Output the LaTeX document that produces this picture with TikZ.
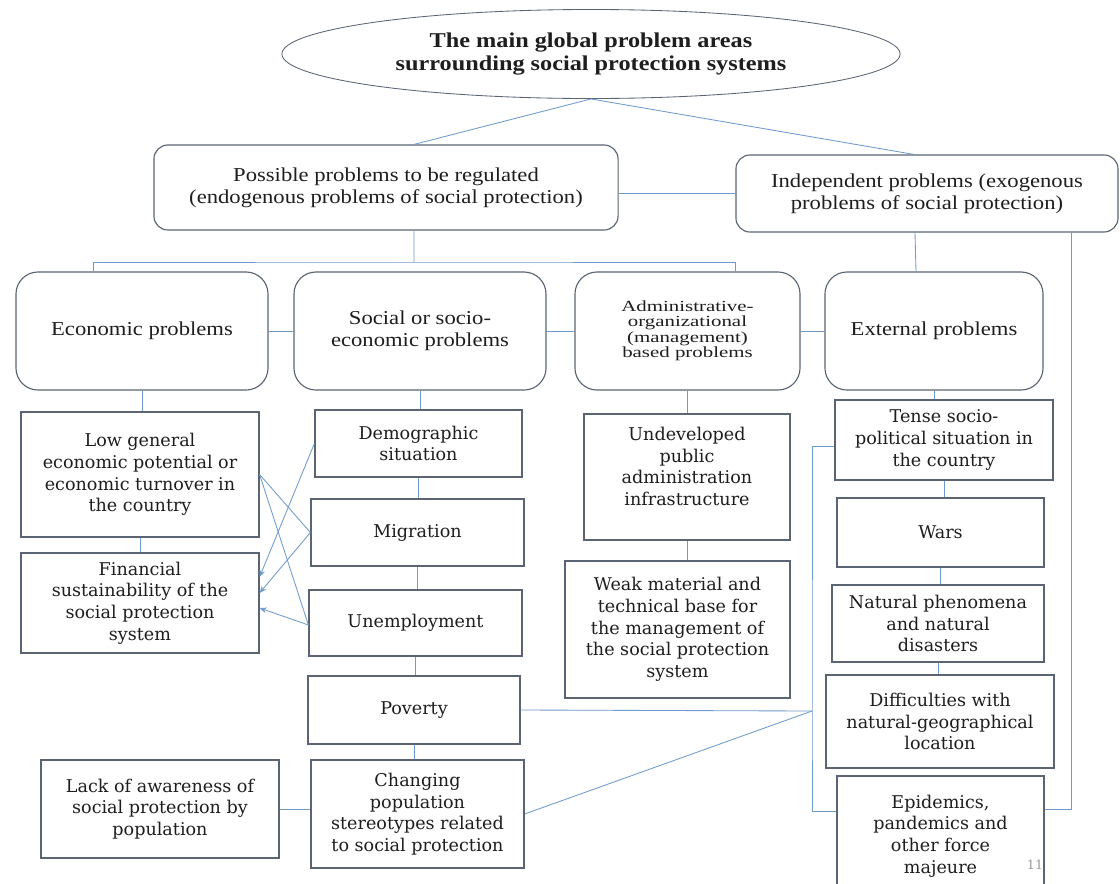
\documentclass[tikz,border=0pt]{standalone}
\usepackage{fontspec}
\setmainfont{Liberation Serif}
\newfontfamily\headfont[FakeStretch=1.15]{Liberation Serif}
\newfontfamily\narrowhead[FakeStretch=1.35]{Liberation Serif}
\newfontfamily\itemfont{DejaVu Serif}
\usepackage{xcolor}
\usetikzlibrary{positioning, arrows.meta, shapes.geometric}

\definecolor{boxline}{RGB}{90,100,115}
\definecolor{linkline}{RGB}{110,155,205}
\definecolor{inkgray}{RGB}{30,30,30}

\begin{document}
\begin{tikzpicture}[
    x=0.025cm, y=-0.025cm,
    title/.style={ellipse, draw=boxline, line width=0.6pt, minimum width=15.45cm, minimum height=2.225cm, inner sep=0pt, align=center, text=inkgray, font=\headfont\bfseries\fontsize{15}{16.5}\selectfont},
    group/.style={rectangle, draw=boxline, line width=0.8pt, rounded corners=0.35cm, inner sep=0pt, align=center, text=inkgray, font=\headfont\fontsize{14}{15.4}\selectfont},
    area/.style={rectangle, draw=boxline, line width=0.8pt, rounded corners=0.55cm, minimum height=2.95cm, inner sep=0pt, align=center, text=inkgray, font=\headfont\fontsize{14}{15.4}\selectfont},
    issue/.style={rectangle, draw=boxline, line width=0.8pt, inner sep=0pt, align=center, text=inkgray, font=\itemfont\fontsize{12.5}{15.4}\selectfont},
    link/.style={draw=linkline, line width=0.6pt},
    feed/.style={link, -{Stealth[length=5pt, width=4pt]}}
]
\clip (0,0) rectangle (1120,883);
\fill[white] (0,0) rectangle (1120,883);

% Nodes
\node[title] (top) at (591,54) {The main global problem areas\\surrounding social protection systems};
\node[group, minimum width=11.6cm, minimum height=2.125cm] (poss) at (386,187.5) {Possible problems to be regulated\\(endogenous problems of social protection)};
\node[group, minimum width=9.55cm, minimum height=1.925cm] (indep) at (927,193.5) {Independent problems (exogenous\\problems of social protection)};

\node[area, minimum width=6.3cm] (econ) at (142,331) {Economic problems};
\node[area, minimum width=6.3cm] (soc) at (420,331) {Social or socio-\\economic problems};
\node[area, minimum width=5.625cm, font=\narrowhead\fontsize{11}{11}\selectfont] (admin) at (687.5,331) {Administrative-\\organizational\\(management)\\based problems};
\node[area, minimum width=5.45cm] (ext) at (934,331) {External problems};

\node[issue, minimum width=5.95cm, minimum height=3.125cm] (low) at (140,474.5) {Low general\\economic potential or\\economic turnover in\\the country};
\node[issue, minimum width=5.95cm, minimum height=2.5cm] (fin) at (140,603) {Financial\\sustainability of the\\social protection\\system};
\node[issue, minimum width=5.95cm, minimum height=2.45cm] (lack) at (160,809) {Lack of awareness of\\social protection by\\population};

\node[issue, minimum width=5.175cm, minimum height=1.675cm] (demo) at (418.5,443.5) {Demographic\\situation};
\node[issue, minimum width=5.325cm, minimum height=1.675cm] (migr) at (417.5,532.5) {Migration};
\node[issue, minimum width=5.325cm, minimum height=1.65cm] (unemp) at (415.5,623) {Unemployment};
\node[issue, minimum width=5.3cm, minimum height=1.7cm] (pov) at (414,710) {Poverty};
\node[issue, minimum width=5.325cm, minimum height=2.7cm] (chg) at (417.5,814) {Changing\\population\\stereotypes related\\to social protection};

\node[issue, minimum width=5.15cm, minimum height=3.15cm] (undev) at (687,477) {Undeveloped\\public\\administration\\infrastructure\\\mbox{}};
\node[issue, minimum width=5.625cm, minimum height=3.425cm] (weak) at (677.5,629.5) {Weak material and\\technical base for\\the management of\\the social protection\\system};

\node[issue, minimum width=5.45cm, minimum height=2cm] (tense) at (944,440) {Tense socio-\\political situation in\\the country};
\node[issue, minimum width=5.175cm, minimum height=1.725cm] (wars) at (940.5,532.5) {Wars};
\node[issue, minimum width=5.3cm, minimum height=1.925cm] (nat) at (938,623.5) {Natural phenomena\\and natural\\disasters};
\node[issue, minimum width=5.7cm, minimum height=2.325cm] (diff) at (940,721.5) {Difficulties with\\natural-geographical\\location};
\node[issue, minimum width=5.175cm, minimum height=3cm] (epi) at (940.5,836) {Epidemics,\\pandemics and\\other force\\majeure};
\node[text=black!40, font=\itemfont\fontsize{9}{10}\selectfont] (pnum) at (1035,865) {11};

\coordinate (fork) at (414,262);
\coordinate (rail) at (812,711);

% Edges
\draw[link] (top.south) -- ([xshift=0.7cm]poss.north);
\draw[link] (top.south) -- ([xshift=-0.325cm]indep.north);
\draw[link] (indep.west -| poss.east) -- (indep.west);
\draw[link] ([xshift=0.7cm]poss.south) -- (fork);
\draw[link] ([xshift=-1.225cm]econ.north) |- (fork) -| ([xshift=1.2cm]admin.north);
\draw[link] (econ.east) -- (soc.west);
\draw[link] (soc.east) -- (admin.west);
\draw[link] (admin.east) -- (ext.west);
\draw[link] ([xshift=-0.3cm]indep.south) -- ([xshift=-0.45cm]ext.north);
\draw[link] ([xshift=3.6cm]indep.south) |- ([yshift=0.675cm]epi.east);

\draw[link] (econ.south) -- (econ.south |- low.north);
\draw[link] (low.south) -- (low.south |- fin.north);
\draw[link] (soc.south) -- (soc.south |- demo.north);
\draw[link] (demo.south) -- (demo.south |- migr.north);
\draw[link] (migr.south) -- (migr.south |- unemp.north);
\draw[link] (unemp.south) -- (unemp.south |- pov.north);
\draw[link] (pov.south) -- (pov.south |- chg.north);
\draw[link] (lack.east) -- (lack.east -| chg.west);
\draw[link] (admin.south) -- (admin.south |- undev.north);
\draw[link] (undev.south) -- (undev.south |- weak.north);
\draw[link] (ext.south) -- (ext.south |- tense.north);
\draw[link] (tense.south) -- (tense.south |- wars.north);
\draw[link] (wars.south) -- (wars.south |- nat.north);
\draw[link] (nat.south) -- (nat.south |- diff.north);

\draw[link] (low.east) -- (migr.west);
\draw[link] (low.east) -- ([yshift=-0.05cm]unemp.west);
\draw[feed] (demo.west) -- ([yshift=0.65cm]fin.east);
\draw[feed] (migr.west) -- ([yshift=0.25cm]fin.east);
\draw[feed] ([yshift=-0.05cm]unemp.west) -- ([yshift=-0.125cm]fin.east);

\draw[link] ([yshift=-0.15cm]tense.west) -| (rail) |- ([yshift=0.625cm]epi.west);
\draw[link] (pov.east) -- (rail);
\draw[link] (chg.east) -- (rail);

\end{tikzpicture}
\end{document}
